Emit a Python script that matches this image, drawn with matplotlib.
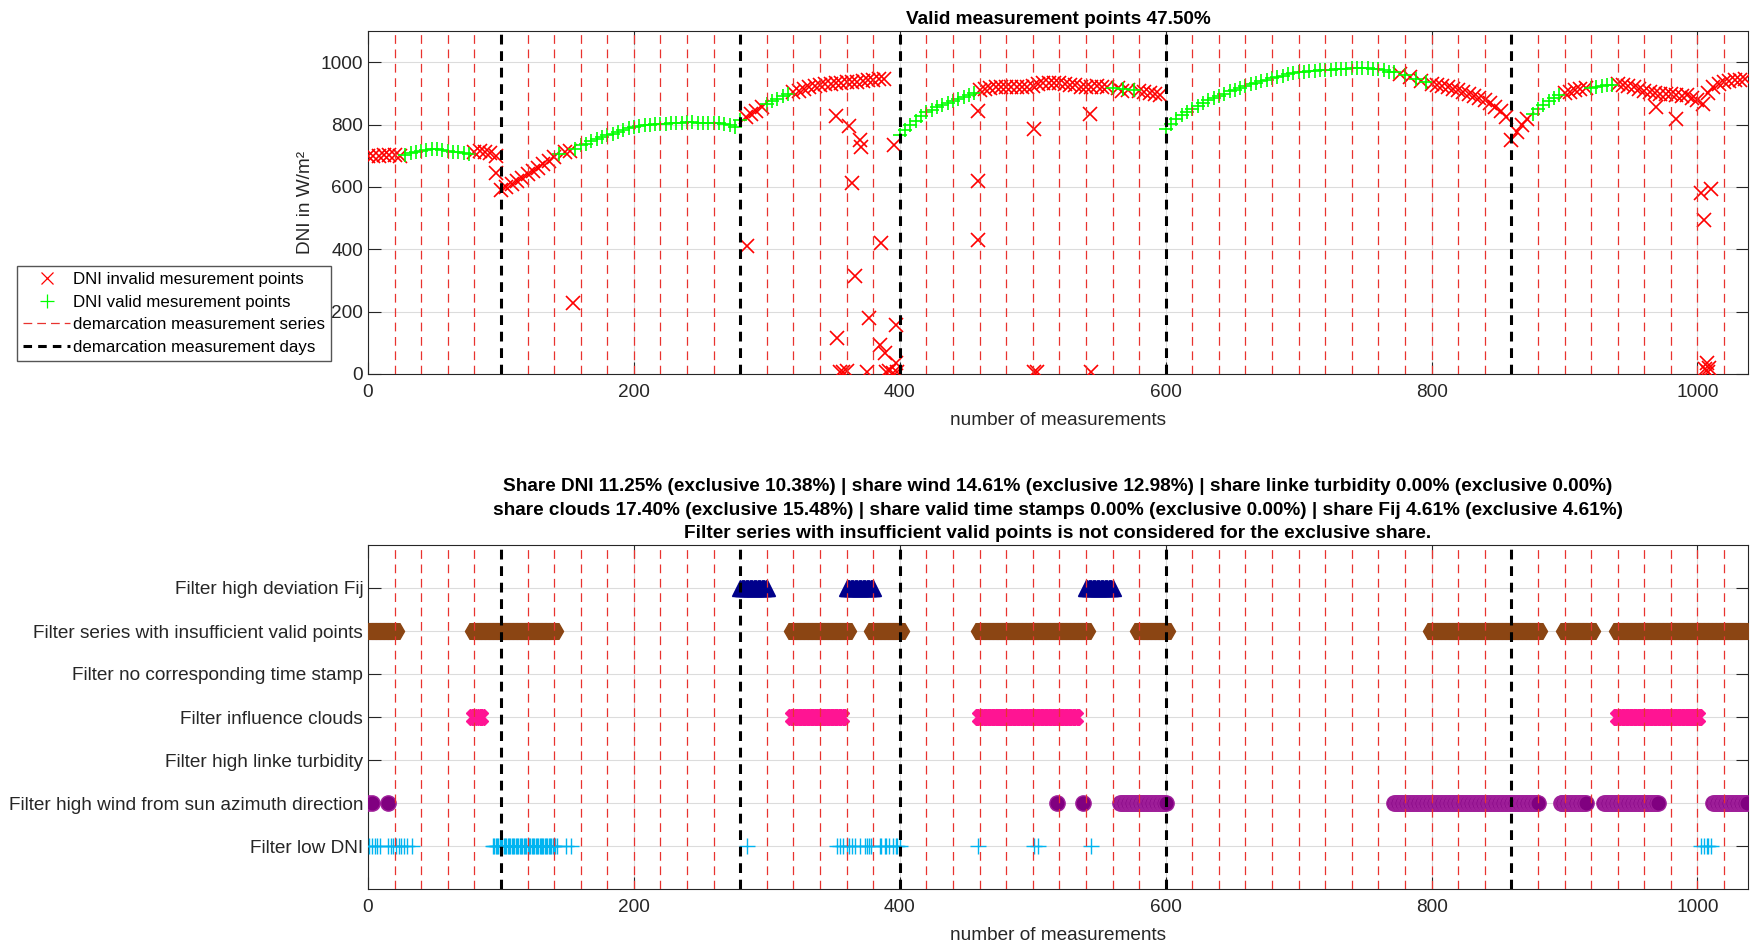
import numpy as np
import matplotlib
matplotlib.use("Agg")
import matplotlib.pyplot as plt
from matplotlib.lines import Line2D

plt.rcParams["font.family"] = ["Liberation Sans", "DejaVu Sans"]

# ---------------- data ----------------
# DNI band, one value every 4th measurement (rows = one measurement series of 20)
dni_step = 4
dni_band = [
    700, 699, 700, 701, 702,    # 0
    701, 700, 703, 708, 713,    # 20
    716, 719, 721, 720, 718,    # 40
    715, 713, 712, 710, 707,    # 60
    712, 715, 713, 708, 700,    # 80
    590, 600, 610, 620, 630,    # 100
    641, 652, 662, 673, 684,    # 120
    695, 704, 711, 716, 722,    # 140
    733, 739, 746, 753, 759,    # 160
    765, 771, 777, 783, 788,    # 180
    791, 794, 797, 800, 801,    # 200
    802, 803, 804, 805, 806,    # 220
    807, 807, 806, 805, 805,    # 240
    806, 806, 803, 798, 792,    # 260
    815, 824, 835, 845, 855,    # 280
    865, 874, 882, 890, 897,    # 300
    903, 909, 914, 919, 923,    # 320
    926, 929, 931, 932, 934,    # 340
    935, 936, 938, 940, 942,    # 360
    944, 945, 946, 10, 733,     # 380
    765, 782, 797, 812, 826,    # 400
    840, 848, 856, 863, 870,    # 420
    876, 882, 889, 895, 901,    # 440
    912, 915, 918, 920, 921,    # 460
    920, 921, 922, 920, 922,    # 480
    925, 930, 932, 934, 933,    # 500
    932, 930, 928, 926, 922,    # 520
    920, 922, 924, 922, 920,    # 540
    918, 916, 914, 912, 910,    # 560
    908, 905, 902, 899, 895,    # 580
    787, 803, 818, 830, 841,    # 600
    851, 861, 870, 878, 886,    # 620
    893, 899, 906, 912, 918,    # 640
    924, 929, 934, 939, 944,    # 660
    949, 953, 957, 961, 965,    # 680
    967, 969, 971, 973, 974,    # 700
    975, 976, 977, 978, 979,    # 720
    980, 980, 980, 980, 979,    # 740
    978, 975, 970, 967, 963,    # 760
    959, 953, 947, 941, 935,    # 780
    931, 927, 923, 919, 915,    # 800
    911, 905, 899, 892, 885,    # 820
    878, 868, 857, 844, 825,    # 840
    752, 775, 798, 818, 834,    # 860
    849, 862, 874, 884, 895,    # 880
    900, 905, 910, 914, 918,    # 900
    918, 922, 925, 927, 928,    # 920
    929, 928, 925, 920, 914,    # 940
    908, 904, 900, 898, 897,    # 960
    897, 895, 893, 896, 885,    # 980
    878, 866, 900, 920, 929,    # 1000
    935, 940, 942, 944, 945,    # 1020
]

# single invalid measurements away from the band (measurement, DNI)
outlier_idx = [96, 154, 285, 352, 353, 355, 357, 360, 362, 364, 366, 370, 371,
               375, 377, 385, 386, 389, 390, 395, 397, 397, 398, 459, 459, 459,
               501, 501, 503, 543, 544, 567, 969, 984, 1003, 1010, 1005, 1007,
               1008, 1006, 1009]
outlier_dni = [646, 229, 409, 827, 115, 7, 5, 10, 795, 613, 313, 752, 727,
               8, 180, 93, 421, 67, 5, 3, 35, 158, 8, 843, 618, 431,
               785, 5, 8, 833, 7, 908, 855, 817, 581, 592, 495, 35,
               5, 15, 20]

valid_ranges = [(28, 78), (142, 280), (300, 317), (400, 458), (558, 576),
                (600, 796), (876, 896), (920, 937)]
valid_exceptions = [148, 152, 564, 572, 776, 784, 792]

series_lines = [20, 40, 60, 80, 120, 140, 160, 180, 200, 220, 240, 260, 300,
                320, 340, 360, 380, 420, 440, 460, 480, 500, 520, 540, 560,
                580, 620, 640, 660, 680, 700, 720, 740, 760, 780, 800, 820,
                840, 880, 900, 920, 940, 960, 980, 1000, 1020]
day_lines = [100, 280, 400, 600, 860]

# filters: flagged measurement ranges (inclusive) / single measurements
filter_labels = ["Filter low DNI", "Filter high wind from sun azimuth direction",
                 "Filter high linke turbidity", "Filter influence clouds",
                 "Filter no corresponding time stamp",
                 "Filter series with insufficient valid points",
                 "Filter high deviation Fij"]
fij_ranges = [(280, 300), (360, 380), (540, 560)]
series_ranges = [(0, 20), (80, 140), (320, 360), (380, 400), (460, 540),
                 (580, 600), (800, 880), (900, 920), (940, 1037)]
clouds_ranges = [(80, 84), (320, 356), (460, 532), (940, 1000)]
wind_single = [0, 3, 15, 518, 538]
wind_ranges = [(566, 600), (772, 880), (897, 916), (930, 970), (1012, 1037)]
low_dni_single = [1, 3, 5, 7, 9, 15, 17, 19, 21, 23, 25, 27, 29, 33, 149, 153,
                  285, 353, 355, 357, 360, 362, 364, 366, 370, 374, 375, 377,
                  378, 385, 386, 389, 390, 392, 395, 397, 398, 400, 459, 501,
                  504, 544, 1003, 1005, 1007, 1008, 1010]
low_dni_ranges = [(94, 142)]

title_top = "Valid measurement points 47.50%"
title_bottom = ("Share DNI 11.25% (exclusive 10.38%) | share wind 14.61% (exclusive 12.98%) | "
                "share linke turbidity 0.00% (exclusive 0.00%)\n"
                "share clouds 17.40% (exclusive 15.48%) | share valid time stamps 0.00% "
                "(exclusive 0.00%) | share Fij 4.61% (exclusive 4.61%)\n"
                "Filter series with insufficient valid points is not considered for the exclusive share.")


def expand(ranges, single=()):
    out = list(single)
    for a, b in ranges:
        out.extend(range(a, b + 1))
    return np.array(sorted(out))


# ---------------- figure ----------------
W, H = 1758, 947
fs = 13.7
fig = plt.figure(figsize=(W / 100, H / 100), dpi=100)
ax1 = fig.add_axes([368 / W, 1 - 374 / H, 1380 / W, 343 / H])
ax2 = fig.add_axes([368 / W, 1 - 889 / H, 1380 / W, 344 / H])

axc = "#262626"
for ax in (ax1, ax2):
    ax.set_xlim(0, 1038)
    ax.set_xticks([0, 200, 400, 600, 800, 1000])
    ax.grid(True, color="#dcdcdc", lw=0.8)
    ax.set_axisbelow(True)
    ax.tick_params(direction="in", length=9, width=0.8, top=True, right=True,
                   labelsize=fs, colors=axc)
    ax.tick_params(axis="x", pad=7)
    for s in ax.spines.values():
        s.set_color(axc)
        s.set_linewidth(0.8)
    for x in series_lines:
        ax.axvline(x, color="#e8332f", lw=0.9, ls=(0, (7, 4.5)), zorder=4)
    for x in day_lines:
        ax.axvline(x, color="black", lw=2.2, ls=(0, (3.2, 2.2)), zorder=5)
    ax.set_xlabel("number of measurements", fontsize=fs, color=axc, labelpad=8)

# top: DNI
idx = np.arange(len(dni_band)) * dni_step
dni = np.array(dni_band)
valid = np.zeros(len(idx), dtype=bool)
for a, b in valid_ranges:
    valid |= (idx >= a) & (idx <= b)
valid &= ~np.isin(idx, valid_exceptions)

inv_x = np.concatenate([idx[~valid], outlier_idx])
inv_y = np.concatenate([dni[~valid], outlier_dni])
ax1.plot(inv_x, inv_y, "x", color="#ff0000", ms=9.5, mew=1.2, ls="none", zorder=3)
ax1.plot(idx[valid], dni[valid], "+", color="#00ff00", ms=10.5, mew=1.2, ls="none", zorder=3)
ax1.set_ylim(0, 1100)
ax1.set_yticks([0, 200, 400, 600, 800, 1000])
ax1.set_ylabel("DNI in W/m²", fontsize=fs, color=axc, labelpad=5)
ax1.set_title(title_top, fontsize=fs, fontweight="bold", color="black", pad=5)

handles = [
    Line2D([], [], marker="x", color="#ff0000", ls="none", ms=9, mew=0.9),
    Line2D([], [], marker="+", color="#00ff00", ls="none", ms=10, mew=0.9),
    Line2D([], [], color="#e8332f", lw=0.9, ls=(0, (7, 4))),
    Line2D([], [], color="black", lw=2.2, ls=(0, (2.8, 2))),
]
labels = ["DNI invalid mesurement points", "DNI valid mesurement points",
          "demarcation measurement series", "demarcation measurement days"]
fig.legend(handles, labels, loc="upper left", bbox_to_anchor=(17 / W, 1 - 266 / H),
           fontsize=12.2, frameon=True, fancybox=False, edgecolor="#555555",
           framealpha=1, borderpad=0.35, labelspacing=0.45, handlelength=2.8,
           handletextpad=0.15, borderaxespad=0)

# bottom: filters
low = expand(low_dni_ranges, low_dni_single)
ax2.plot(low, np.full(len(low), 1), "+", color="#00b4f0", ms=11, mew=1.0, ls="none", zorder=3)
wind = expand(wind_ranges, wind_single)
ax2.plot(wind, np.full(len(wind), 2), "o", color="#800080", mec="#a0209a", ms=11,
         ls="none", zorder=3)
clouds = expand(clouds_ranges)
ax2.plot(clouds, np.full(len(clouds), 4), "X", color="#ff1493", ms=11, ls="none", zorder=3)
series = expand(series_ranges)
ax2.plot(series, np.full(len(series), 6), "H", color="#8b4513", ms=13, ls="none", zorder=3)
fij = expand(fij_ranges)
ax2.plot(fij, np.full(len(fij), 7), "^", color="#00008b", ms=11, ls="none", zorder=3)

ax2.set_ylim(0, 8)
ax2.set_yticks(range(1, 8))
ax2.set_yticklabels(filter_labels)
ax2.set_title(title_bottom, fontsize=fs, fontweight="bold", color="black",
              linespacing=1.5, pad=5)

fig.savefig("out.png", dpi=100)
